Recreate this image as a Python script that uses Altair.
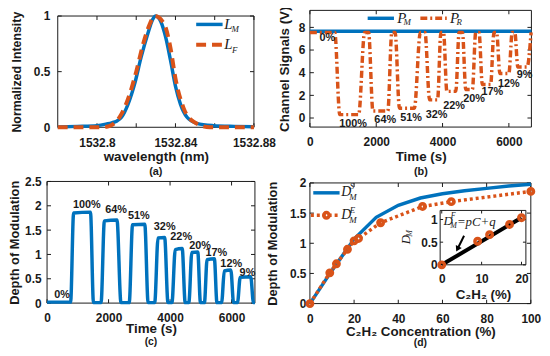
import altair as alt
import pandas as pd

# ---------------- values ----------------
# (a) normalized spectra
wl_M = [1532.78, 1532.79, 1532.80, 1532.805, 1532.8075, 1532.81, 1532.8125,
        1532.8159, 1532.8192, 1532.8225, 1532.8259, 1532.8284, 1532.8300,
        1532.8325, 1532.8350, 1532.8375, 1532.8400, 1532.8425, 1532.8459,
        1532.8509, 1532.8592, 1532.8700, 1532.8800]
I_M = [0.003, 0.008, 0.015, 0.03, 0.04, 0.055, 0.09, 0.21, 0.39, 0.63, 0.84,
       0.97, 1.0, 0.95, 0.81, 0.60, 0.37, 0.21, 0.09, 0.035, 0.015, 0.008, 0.005]
wl_F = [1532.78, 1532.80, 1532.805, 1532.8075, 1532.8125, 1532.8167, 1532.82,
        1532.8234, 1532.8267, 1532.8295, 1532.8342, 1532.8375, 1532.84,
        1532.8442, 1532.8492, 1532.8575, 1532.88]
I_F = [0.0, 0.0, 0.005, 0.02, 0.12, 0.30, 0.50, 0.74, 0.92, 1.0, 0.93, 0.71,
       0.44, 0.17, 0.05, 0.0, 0.0]
a_xticks = [1532.8, 1532.82, 1532.84, 1532.86, 1532.88]
a_xlabels = [1532.8, 1532.84, 1532.88]
a_yticks = [0, 0.5, 1]

# (b) channel signals
t_PM = [0, 6680]
P_M = [7.65, 7.65]
t_PR = [0, 750, 900, 1470, 1650, 1770, 1900, 2350, 2470, 2570, 2700, 3150, 3330,
        3470, 3610, 3850, 3950, 4030, 4130, 4400, 4500, 4600, 4700, 4900, 5000,
        5100, 5200, 5450, 5550, 5630, 5730, 6000, 6100, 6180, 6270, 6550, 6670]
P_R = [7.55, 7.55, 0.3, 0.3, 7.55, 7.55, 0.62, 0.62, 7.55, 7.55, 0.87, 0.87,
       7.55, 7.55, 1.6, 1.6, 7.55, 7.55, 2.35, 2.35, 7.55, 7.55, 2.52, 2.52,
       7.55, 7.55, 2.95, 2.95, 7.55, 7.55, 3.92, 3.92, 7.55, 7.55, 4.5, 4.5, 7.55]
pct_labels = ["0%", "100%", "64%", "51%", "32%", "22%", "20%", "17%", "12%", "9%"]
b_lab_t = [525, 1302, 2271, 3051, 3822, 4350, 4950, 5502, 6000, 6471]
b_lab_v = [7.04, -0.49, -0.2, 0.0, 0.3, 1.1, 1.69, 2.33, 3.03, 3.75]
time_ticks = [0, 2000, 4000, 6000]
b_yticks = [0, 2, 4, 6, 8]

# (c) depth of modulation vs time
t_D = [0, 766, 863, 1412, 1509, 1757, 1864, 2274, 2403, 2672, 2780, 3178, 3286,
       3501, 3609, 3824, 3932, 4061, 4169, 4395, 4492, 4611, 4708, 4901, 4988,
       5118, 5203, 5441, 5525, 5677, 5764, 5977, 6065, 6194, 6281, 6624, 6711, 6760]
D_t = [0.02, 0.02, 1.85, 1.87, 0.01, 0.01, 1.69, 1.71, 0.01, 0.01, 1.61, 1.62,
       0.01, 0.01, 1.34, 1.35, 0.01, 0.01, 1.10, 1.12, 0.01, 0.01, 1.04, 1.05,
       0.01, 0.01, 0.89, 0.91, 0.01, 0.01, 0.66, 0.68, 0.01, 0.01, 0.53, 0.54,
       0.01, 0.01]
c_lab_t = [485, 1292, 2242, 2985, 3825, 4362, 4976, 5505, 5990, 6517]
c_lab_v = [0.17, 2.02, 1.91, 1.78, 1.56, 1.36, 1.17, 1.03, 0.81, 0.62]
c_yticks = [0, 0.5, 1, 1.5, 2, 2.5]

# (d) depth of modulation vs concentration
C_sim = [0, 10, 20, 30, 40, 50, 60, 70, 80, 90, 100]
D_sim = [0, 0.55, 1.07, 1.43, 1.63, 1.75, 1.82, 1.87, 1.91, 1.95, 1.98]
C_exp = [0, 9, 12, 17, 20, 22, 32, 51, 64, 100]
D_exp = [0, 0.51, 0.66, 0.90, 1.04, 1.08, 1.34, 1.61, 1.69, 1.86]
d_xticks = [0, 20, 40, 60, 80, 100]
d_yticks = [0, 0.5, 1, 1.5, 2]
# inset
C_in = [0, 9, 12, 17, 20]
D_in = [0, 0.52, 0.665, 0.89, 1.04]
C_fit = [0, 20]
D_fit = [0, 1.04]
C_arrow = [5.6, 3.95]
D_arrow = [0.64, 0.35]
i_xticks = [0, 10, 20]
i_yticks = [0, 0.5, 1]

# ---------------- styling / layout ----------------
W, H = 540, 340
SANS = "Liberation Sans"
SERIF = "Liberation Serif"
INK = "#1a1a1a"
BLUE = "#0072BD"
RED = "#D95319"

A_X, A_Y = [50.3, 248.7], [118.7, 6.2]
B_X, B_Y = [305.3, 529.3], [118.5, 0.5]
C_X, C_Y = [39.5, 249.7], [296.5, 173.5]
D_X, D_Y = [305.3, 528.7], [297.0, 175.0]
I_X, I_Y = [437.0, 523.7], [257.8, 202.8]

A_XD, A_YD = [1532.78, 1532.88], [0, 1]
B_XD, B_YD = [0, 6680], [-0.8, 9.5]
C_XD, C_YD = [0, 6760], [0, 2.5]
D_XD, D_YD = [0, 100], [0, 2]
I_XD, I_YD = [-0.4, 21.1], [0, 1.2]

one = pd.DataFrame({"k": [0]})

LAB = dict(labelFont=SANS, labelFontSize=12, labelFontWeight="bold", labelColor=INK,
           titleFont=SANS, titleFontSize=13.5, titleFontWeight="bold", titleColor=INK,
           grid=False, ticks=False, domain=False, labelOverlap=False, labelFlush=False)


def sc(domain, rng):
    return alt.Scale(domain=domain, range=rng, nice=False, zero=False)


def xax(values, fmt, y_px, title, pad=10, tpad=2, **kw):
    d = dict(LAB)
    d.update(kw)
    return alt.Axis(orient="bottom", offset=y_px - H, values=values, format=fmt,
                    title=title, labelPadding=pad, titlePadding=tpad, **d)


def yax(values, fmt, x_px, title, pad=5, tpad=6, **kw):
    d = dict(LAB)
    d.update(kw)
    return alt.Axis(orient="left", offset=-x_px, values=values, format=fmt,
                    title=title, labelPadding=pad, titlePadding=tpad, **d)


def frame(xr, yr, fill="white", fo=0):
    return alt.Chart(one).mark_rect(fill=fill, fillOpacity=fo, stroke=INK, strokeWidth=1).encode(
        x=alt.value(xr[0]), x2=alt.value(xr[1]), y=alt.value(yr[1]), y2=alt.value(yr[0]))


def inward_ticks(xenc, yenc, xvals, yvals, xr, yr, L=4):
    dfx = pd.DataFrame({"x": xvals})
    dfy = pd.DataFrame({"y": yvals})
    common = dict(size=L, thickness=1, color=INK, opacity=1)
    return [
        alt.Chart(dfx).mark_tick(orient="vertical", **common).encode(x=xenc, y=alt.value(yr[0] - L / 2)),
        alt.Chart(dfx).mark_tick(orient="vertical", **common).encode(x=xenc, y=alt.value(yr[1] + L / 2)),
        alt.Chart(dfy).mark_tick(orient="horizontal", **common).encode(y=yenc, x=alt.value(xr[0] + L / 2)),
        alt.Chart(dfy).mark_tick(orient="horizontal", **common).encode(y=yenc, x=alt.value(xr[1] - L / 2)),
    ]


def txt(s, x, y, size=12, font=SANS, style="normal", weight="normal", align="left", angle=0):
    return alt.Chart(one).mark_text(font=font, fontSize=size, fontStyle=style, fontWeight=weight,
                                    align=align, baseline="middle", angle=angle, color=INK).encode(
        x=alt.value(x), y=alt.value(y), text=alt.value(s))


def hrule(x0, x1, y, color, width, dash=None):
    kw = dict(color=color, strokeWidth=width)
    if dash:
        kw["strokeDash"] = dash
    return alt.Chart(one).mark_rule(**kw).encode(x=alt.value(x0), x2=alt.value(x1), y=alt.value(y))


# ---------------- panel (a) ----------------
xa = alt.X("x:Q", scale=sc(A_XD, A_X),
           axis=xax(a_xlabels, ".2~f", A_Y[0], "wavelength (nm)"))
ya = alt.Y("y:Q", scale=sc(A_YD, A_Y),
           axis=yax(a_yticks, "~g", A_X[0], "Normalized Intensity", pad=8, tpad=10,
                    titleFontSize=12.5))
pa = alt.layer(
    *inward_ticks(xa, ya, a_xticks, a_yticks, A_X, A_Y),
    alt.Chart(pd.DataFrame({"x": wl_M, "y": I_M})).mark_line(
        color=BLUE, strokeWidth=3.5, interpolate="monotone").encode(x=xa, y=ya),
    alt.Chart(pd.DataFrame({"x": wl_F, "y": I_F})).mark_line(
        color=RED, strokeWidth=4, strokeDash=[10, 6], interpolate="monotone").encode(x=xa, y=ya),
)

# ---------------- panel (b) ----------------
xb = alt.X("x:Q", scale=sc(B_XD, B_X), axis=xax(time_ticks, "d", B_Y[0], "Time (s)"))
yb = alt.Y("y:Q", scale=sc(B_YD, B_Y),
           axis=yax(b_yticks, "d", B_X[0], "Channel Signals (V)", pad=5, tpad=7))
pb = alt.layer(
    *inward_ticks(xb, yb, time_ticks, b_yticks, B_X, B_Y),
    alt.Chart(pd.DataFrame({"x": t_PM, "y": P_M})).mark_line(
        color=BLUE, strokeWidth=3.5).encode(x=xb, y=yb),
    alt.Chart(pd.DataFrame({"x": t_PR, "y": P_R})).mark_line(
        color=RED, strokeWidth=3.5, strokeDash=[7, 3, 2, 3], interpolate="monotone").encode(x=xb, y=yb),
    alt.Chart(pd.DataFrame({"x": b_lab_t, "y": b_lab_v, "lab": pct_labels})).mark_text(
        font=SANS, fontSize=11, fontWeight="bold", color=INK).encode(x=xb, y=yb, text="lab:N"),
)

# ---------------- panel (c) ----------------
xc = alt.X("x:Q", scale=sc(C_XD, C_X),
           axis=xax(time_ticks, "d", C_Y[0], "Time (s)", pad=10, titleY=26, titleBaseline="middle"))
yc = alt.Y("y:Q", scale=sc(C_YD, C_Y),
           axis=yax(c_yticks, "~g", C_X[0], "Depth of Modulation", pad=6, tpad=3, titleFontSize=13))
pc = alt.layer(
    *inward_ticks(xc, yc, time_ticks, c_yticks, C_X, C_Y),
    alt.Chart(pd.DataFrame({"x": t_D, "y": D_t})).mark_line(
        color=BLUE, strokeWidth=3.5, interpolate="monotone").encode(x=xc, y=yc),
    alt.Chart(pd.DataFrame({"x": c_lab_t, "y": c_lab_v, "lab": pct_labels})).mark_text(
        font=SANS, fontSize=11, fontWeight="bold", color=INK).encode(x=xc, y=yc, text="lab:N"),
)

# ---------------- panel (d) ----------------
xd = alt.X("x:Q", scale=sc(D_XD, D_X),
           axis=xax(d_xticks, "d", D_Y[0], "C\u2082H\u2082 Concentration (%)", pad=10,
                    titleY=28, titleBaseline="middle"))
yd = alt.Y("y:Q", scale=sc(D_YD, D_Y),
           axis=yax(d_yticks, "~g", D_X[0], "Depth of Modulation", pad=4, tpad=10, titleFontSize=13))
df_exp = pd.DataFrame({"x": C_exp, "y": D_exp})
pd_main = alt.layer(
    *inward_ticks(xd, yd, d_xticks, d_yticks, D_X, D_Y),
    alt.Chart(pd.DataFrame({"x": C_sim, "y": D_sim})).mark_line(
        color=BLUE, strokeWidth=3.5).encode(x=xd, y=yd),
    alt.Chart(df_exp).mark_line(color=RED, strokeWidth=3.5, strokeDash=[3, 3]).encode(x=xd, y=yd),
    alt.Chart(df_exp).mark_point(color=RED, filled=False, size=30, strokeWidth=3.5,
                                 opacity=1).encode(x=xd, y=yd),
)

# ---------------- inset ----------------
xi = alt.X("x:Q", scale=sc(I_XD, I_X),
           axis=xax(i_xticks, "d", I_Y[0], "C\u2082H\u2082 (%)", pad=9, tpad=3))
yi = alt.Y("y:Q", scale=sc(I_YD, I_Y), axis=yax(i_yticks, "~g", I_X[0], "", pad=3))
pin = alt.layer(
    *inward_ticks(xi, yi, i_xticks, i_yticks, I_X, I_Y, L=3),
    alt.Chart(pd.DataFrame({"x": C_fit, "y": D_fit})).mark_line(
        color="black", strokeWidth=4).encode(x=xi, y=yi),
    alt.Chart(pd.DataFrame({"x": C_in, "y": D_in})).mark_point(
        color=RED, filled=False, size=30, strokeWidth=3.5, opacity=1).encode(x=xi, y=yi),
    alt.Chart(pd.DataFrame({"x": C_arrow, "y": D_arrow})).mark_line(
        color="black", strokeWidth=2).encode(x=xi, y=yi),
    alt.Chart(pd.DataFrame({"x": C_arrow[1:], "y": D_arrow[1:]})).mark_point(
        shape="triangle-down", filled=True, color="black", size=45, angle=27, opacity=1).encode(x=xi, y=yi),
)

# ---------------- legends & annotations ----------------
deco = [
    # (a) legend
    hrule(190.3, 217.0, 14.7, BLUE, 3.5),
    txt("L", 218.7, 14.5, 15, SERIF, "italic"),
    txt("M", 226.0, 19.8, 9, SERIF, "italic"),
    hrule(190.3, 217.0, 35.3, RED, 4, [10, 6]),
    txt("L", 218.7, 35.0, 15, SERIF, "italic"),
    txt("F", 226.5, 40.5, 9, SERIF, "italic"),
    # (b) legend
    hrule(363.7, 390.3, 8.5, BLUE, 3.5),
    txt("P", 393.5, 8.0, 15, SERIF, "italic"),
    txt("M", 400.0, 12.5, 9, SERIF, "italic"),
    hrule(417.0, 443.7, 8.5, RED, 3.5, [7, 3, 2, 3]),
    txt("P", 447.0, 8.0, 15, SERIF, "italic"),
    txt("R", 453.5, 12.5, 9, SERIF, "italic"),
    # (d) legend
    hrule(308.7, 335.3, 185.0, BLUE, 3.5),
    txt("D", 337.0, 184.0, 14, SERIF, "italic"),
    txt("S", 345.5, 178.5, 9, SERIF, "italic"),
    txt("M", 345.0, 189.0, 9, SERIF, "italic"),
    hrule(306.3, 333.7, 207.7, RED, 3.5, [3, 3]),
    alt.Chart(one).mark_point(color=RED, filled=False, size=30, strokeWidth=3.5, opacity=1).encode(
        x=alt.value(322.0), y=alt.value(207.7)),
    txt("D", 337.0, 207.5, 14, SERIF, "italic"),
    txt("E", 345.5, 202.0, 9, SERIF, "italic"),
    txt("M", 345.0, 212.5, 9, SERIF, "italic"),
    # inset annotations
    txt("D", 440.3, 213.7, 13, SERIF, "italic"),
    txt("F", 447.8, 208.6, 8, SERIF, "italic"),
    txt("M", 447.3, 218.4, 8, SERIF, "italic"),
    txt("=pC+q", 454.0, 214.6, 13, SERIF, "italic"),
    txt("D", 402.5, 237.0, 13, SERIF, "italic", angle=270),
    txt("M", 407.0, 229.5, 8, SERIF, "italic", angle=270),
    # panel letters
    txt("(a)", 149.5, 163.7, 11, SANS, "normal", "bold", "center"),
    txt("(b)", 417.5, 163.7, 11, SANS, "normal", "bold", "center"),
    txt("(c)", 144.6, 336.0, 10.5, SANS, "normal", "bold", "center"),
    txt("(d)", 417.0, 336.5, 10.5, SANS, "normal", "bold", "center"),
]

layers = [frame(A_X, A_Y), frame(B_X, B_Y), frame(C_X, C_Y), frame(D_X, D_Y),
          pa, pb, pc, pd_main,
          frame(I_X, I_Y, fill="white", fo=1), pin] + deco

chart = alt.layer(*layers).resolve_scale(
    x="independent", y="independent"
).properties(
    width=W, height=H, padding=0, autosize=alt.AutoSizeParams(type="none")
).configure_view(strokeOpacity=0)

chart.save("out.html", embed_options={"renderer": "svg", "actions": False})
